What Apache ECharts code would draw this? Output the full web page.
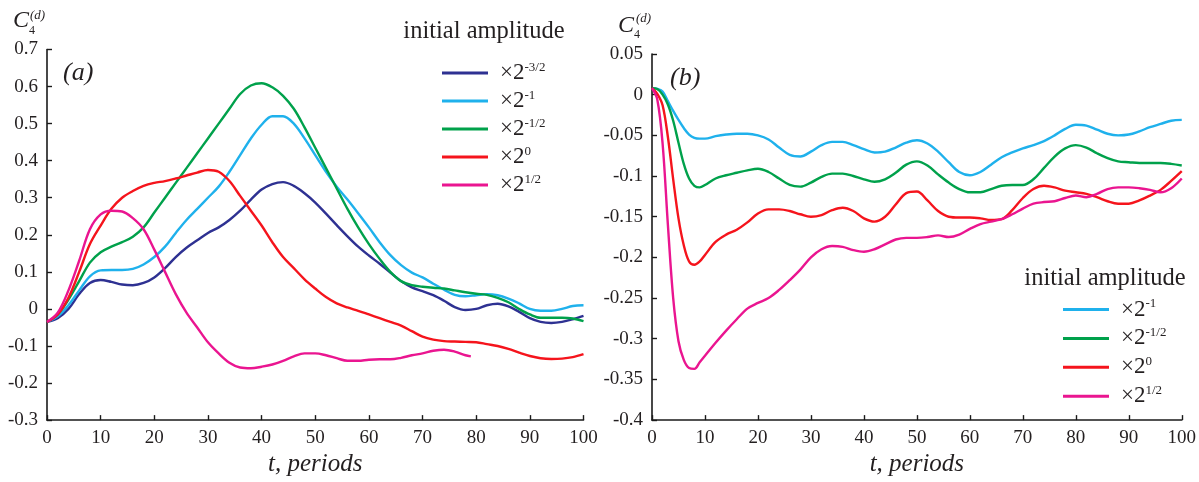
<!DOCTYPE html>
<html>
<head>
<meta charset="utf-8">
<script src="https://cdn.jsdelivr.net/npm/echarts@6/dist/echarts.min.js"></script>
<style>
html,body{margin:0;padding:0;background:#fff;}
#c{width:1199px;height:482px;}
</style>
</head>
<body>
<div id="c"></div>
<script>
// ---------- Panel (a) ----------
var tA = [0,2,4,6,8,10,12,14,16,18,20,22,24,26,28,30,32,34,36,38,40,42,44,46,48,50,52,54,56,58,60,62,64,66,68,70,72,74,76,78,80,82,84,86,88,90,92,94,96,98,100];
var a_m32 = [-0.035,-0.025,0.0,0.04,0.07,0.078,0.073,0.066,0.064,0.07,0.085,0.11,0.14,0.165,0.185,0.205,0.22,0.24,0.265,0.295,0.322,0.337,0.342,0.332,0.312,0.287,0.257,0.226,0.196,0.168,0.144,0.122,0.098,0.075,0.058,0.048,0.037,0.022,0.005,-0.003,0.0,0.01,0.014,0.007,-0.008,-0.025,-0.035,-0.038,-0.035,-0.028,-0.019];
var a_m1 = [-0.035,-0.02,0.01,0.05,0.088,0.104,0.105,0.105,0.108,0.12,0.14,0.168,0.205,0.24,0.27,0.3,0.33,0.37,0.415,0.46,0.497,0.52,0.52,0.5,0.46,0.415,0.37,0.33,0.295,0.258,0.22,0.18,0.145,0.118,0.098,0.085,0.068,0.052,0.038,0.034,0.037,0.04,0.037,0.028,0.015,0.0,-0.005,-0.005,0.0,0.008,0.01];
var a_m12 = [-0.035,-0.015,0.025,0.075,0.125,0.153,0.168,0.18,0.195,0.22,0.26,0.3,0.34,0.38,0.42,0.46,0.5,0.54,0.58,0.603,0.609,0.598,0.575,0.54,0.49,0.435,0.38,0.325,0.27,0.22,0.175,0.135,0.1,0.075,0.064,0.06,0.057,0.055,0.05,0.045,0.041,0.038,0.03,0.018,0.0,-0.015,-0.024,-0.024,-0.024,-0.026,-0.033];
var a_0 = [-0.035,-0.015,0.03,0.1,0.175,0.225,0.27,0.3,0.318,0.332,0.34,0.345,0.352,0.36,0.368,0.375,0.37,0.345,0.305,0.265,0.225,0.18,0.14,0.11,0.08,0.055,0.032,0.015,0.004,-0.005,-0.015,-0.025,-0.035,-0.045,-0.06,-0.075,-0.083,-0.087,-0.088,-0.089,-0.09,-0.095,-0.1,-0.108,-0.118,-0.127,-0.133,-0.135,-0.134,-0.13,-0.122];
var tA_p12 = [0,2,4,6,8,10,12,14,16,18,20,22,24,26,28,30,32,34,36,38,40,42,44,46,48,50,52,54,56,58,60,62,64,66,68,70,72,74,76,78,79];
var a_p12 = [-0.035,-0.01,0.05,0.13,0.215,0.255,0.265,0.263,0.245,0.215,0.16,0.1,0.04,-0.01,-0.05,-0.09,-0.12,-0.145,-0.158,-0.16,-0.156,-0.15,-0.14,-0.128,-0.12,-0.12,-0.125,-0.133,-0.14,-0.14,-0.137,-0.136,-0.136,-0.132,-0.125,-0.12,-0.113,-0.11,-0.115,-0.125,-0.128];

// ---------- Panel (b) ----------
var tB = [0,1,2,3,4,5,6,7,8,9,10,12,14,16,18,20,22,24,26,28,30,32,34,36,38,40,42,44,46,48,50,52,54,56,58,60,62,64,66,68,70,72,74,76,78,80,82,84,86,88,90,92,94,96,98,100];
var b_m1 = [0.008,0.007,0.004,-0.008,-0.02,-0.031,-0.041,-0.049,-0.053,-0.054,-0.054,-0.051,-0.049,-0.048,-0.048,-0.05,-0.055,-0.065,-0.074,-0.076,-0.07,-0.062,-0.058,-0.058,-0.062,-0.067,-0.071,-0.07,-0.065,-0.059,-0.056,-0.06,-0.07,-0.083,-0.095,-0.099,-0.095,-0.086,-0.077,-0.071,-0.066,-0.062,-0.057,-0.05,-0.042,-0.037,-0.038,-0.043,-0.048,-0.05,-0.049,-0.045,-0.04,-0.036,-0.032,-0.031];
var b_m12 = [0.008,0.007,0.0,-0.012,-0.032,-0.059,-0.085,-0.103,-0.112,-0.114,-0.111,-0.103,-0.099,-0.096,-0.093,-0.091,-0.095,-0.103,-0.111,-0.113,-0.108,-0.101,-0.097,-0.097,-0.1,-0.104,-0.107,-0.104,-0.096,-0.086,-0.082,-0.087,-0.098,-0.108,-0.116,-0.12,-0.12,-0.116,-0.112,-0.111,-0.111,-0.104,-0.09,-0.076,-0.066,-0.062,-0.065,-0.072,-0.078,-0.082,-0.083,-0.084,-0.084,-0.084,-0.085,-0.087];
var b_0 = [0.008,0.001,-0.013,-0.052,-0.104,-0.152,-0.185,-0.205,-0.209,-0.205,-0.197,-0.181,-0.172,-0.166,-0.157,-0.146,-0.141,-0.141,-0.143,-0.147,-0.15,-0.148,-0.142,-0.139,-0.143,-0.152,-0.156,-0.15,-0.135,-0.121,-0.119,-0.13,-0.143,-0.15,-0.151,-0.151,-0.152,-0.154,-0.153,-0.142,-0.127,-0.116,-0.112,-0.114,-0.118,-0.12,-0.122,-0.126,-0.131,-0.134,-0.134,-0.13,-0.124,-0.117,-0.106,-0.094];
var b_p12 = [0.008,-0.006,-0.06,-0.16,-0.25,-0.303,-0.326,-0.336,-0.337,-0.329,-0.321,-0.305,-0.29,-0.276,-0.263,-0.256,-0.25,-0.24,-0.228,-0.215,-0.2,-0.19,-0.186,-0.187,-0.191,-0.193,-0.19,-0.184,-0.178,-0.176,-0.176,-0.175,-0.173,-0.175,-0.172,-0.165,-0.159,-0.156,-0.153,-0.147,-0.14,-0.134,-0.132,-0.131,-0.127,-0.124,-0.126,-0.122,-0.116,-0.114,-0.114,-0.115,-0.117,-0.12,-0.115,-0.103];

// ---------- Ticks / labels ----------
var xMin = 0, xMax = 100, xStep = 10;
var yAMin = -0.3, yAMax = 0.7, yAStep = 0.1;
var yBMin = -0.4, yBMax = 0.05, yBStep = 0.05;
var legendTitle = 'initial amplitude';
var xName = 't, periods';
var supText = {'m32':'-3/2','m1':'-1','m12':'-1/2','p0':'0','p12':'1/2'};

var COL = {m32:'#2e3192', m1:'#1fb1ec', m12:'#00a14b', p0:'#f5141c', p12:'#ea1590'};
var FONT = '"Liberation Serif","DejaVu Serif",serif';
var TXT = '#231f20';

function pairs(ts, vs){ return ts.map(function(t,i){ return [t, vs[i]]; }); }

function mkX(idx){
  return {
    type:'value', gridIndex: idx, min:xMin, max:xMax, interval:xStep,
    name: xName, nameLocation:'middle', nameGap: 31,
    nameTextStyle:{fontFamily:FONT, fontStyle:'italic', fontSize:25, color:TXT},
    axisLine:{show:true, onZero:false, lineStyle:{color:'#1a1a1a', width:1.6}},
    axisTick:{show:true, inside:true, length:5, lineStyle:{color:'#1a1a1a', width:1.4}},
    axisLabel:{fontFamily:FONT, fontSize:19, color:TXT, margin:8},
    splitLine:{show:false}
  };
}
function mkY(idx, mn, mx, st){
  return {
    type:'value', gridIndex: idx, min:mn, max:mx, interval:st,
    axisLine:{show:true, onZero:false, lineStyle:{color:'#1a1a1a', width:1.6}},
    axisTick:{show:true, inside:true, length:5, lineStyle:{color:'#1a1a1a', width:1.4}},
    axisLabel:{fontFamily:FONT, fontSize:19, color:TXT, margin:9,
      formatter:function(v){ var r = Math.round(v*1000)/1000; return String(r); }},
    splitLine:{show:false}
  };
}
function mkS(name, key, xi, data){
  return {
    name:name, type:'line', xAxisIndex:xi, yAxisIndex:xi, data:data,
    smooth:0.35, symbol:'none', showSymbol:false,
    lineStyle:{color:COL[key], width:2.4}, itemStyle:{color:COL[key]},
    emphasis:{disabled:true}, animation:false
  };
}
var rich = {
  a:{fontFamily:FONT, fontSize:23, color:TXT, lineHeight:24, padding:[0,0,0,7]},
  s:{fontFamily:FONT, fontSize:13, color:TXT, verticalAlign:'top', lineHeight:24, padding:[0,0,8,0]}
};
function legendFmt(name){ var k = name.split('|')[1]; return '{a|×2}{s|' + supText[k] + '}'; }
function txt(x, y, s, font){
  return {type:'text', x:x, y:y, style:{text:s, font:font, fill:TXT, textAlign:'left', textVerticalAlign:'middle', verticalAlign:'middle'}};
}

var option = {
  backgroundColor:'#fff',
  animation:false,
  grid:[
    {left:47, top:49.5, width:536.5, height:384.5, containLabel:false},
    {left:652, top:54, width:530, height:381.5, containLabel:false}
  ],
  xAxis:[mkX(0), mkX(1)],
  yAxis:[mkY(0, yAMin, yAMax, yAStep), mkY(1, yBMin, yBMax, yBStep)],
  legend:[
    {orient:'vertical', left:437, top:56, itemWidth:46, itemHeight:3, itemGap:4.5, icon:'rect',
     data:['a|m32','a|m1','a|m12','a|p0','a|p12'], formatter:legendFmt,
     textStyle:{rich:rich}, selectedMode:false},
    {orient:'vertical', left:1058, top:292.5, itemWidth:46, itemHeight:3, itemGap:5.4, icon:'rect',
     data:['b|m1','b|m12','b|p0','b|p12'], formatter:legendFmt,
     textStyle:{rich:rich}, selectedMode:false}
  ],
  graphic:[
    {type:'text', x:484, y:32, style:{text:legendTitle, font:'24.5px '+FONT, fill:TXT, textAlign:'center', textVerticalAlign:'middle', verticalAlign:'middle'}},
    {type:'text', x:1105, y:279, style:{text:legendTitle, font:'24.5px '+FONT, fill:TXT, textAlign:'center', textVerticalAlign:'middle', verticalAlign:'middle'}},
    txt(13, 21, 'C', 'italic 24px '+FONT),
    txt(29, 31, '4', '12px '+FONT),
    txt(30, 16, '(d)', 'italic 13px '+FONT),
    txt(618, 26, 'C', 'italic 24px '+FONT),
    txt(634, 35, '4', '12px '+FONT),
    txt(636, 19, '(d)', 'italic 13px '+FONT),
    txt(63, 73, '(a)', 'italic 26px '+FONT),
    txt(670, 78, '(b)', 'italic 26px '+FONT)
  ],
  series:[
    mkS('a|m32','m32',0,pairs(tA,a_m32)),
    mkS('a|m1','m1',0,pairs(tA,a_m1)),
    mkS('a|m12','m12',0,pairs(tA,a_m12)),
    mkS('a|p0','p0',0,pairs(tA,a_0)),
    mkS('a|p12','p12',0,pairs(tA_p12,a_p12)),
    mkS('b|m1','m1',1,pairs(tB,b_m1)),
    mkS('b|m12','m12',1,pairs(tB,b_m12)),
    mkS('b|p0','p0',1,pairs(tB,b_0)),
    mkS('b|p12','p12',1,pairs(tB,b_p12))
  ]
};
var chart = echarts.init(document.getElementById('c'), null, {renderer:'canvas'});
chart.setOption(option);
</script>
</body>
</html>
